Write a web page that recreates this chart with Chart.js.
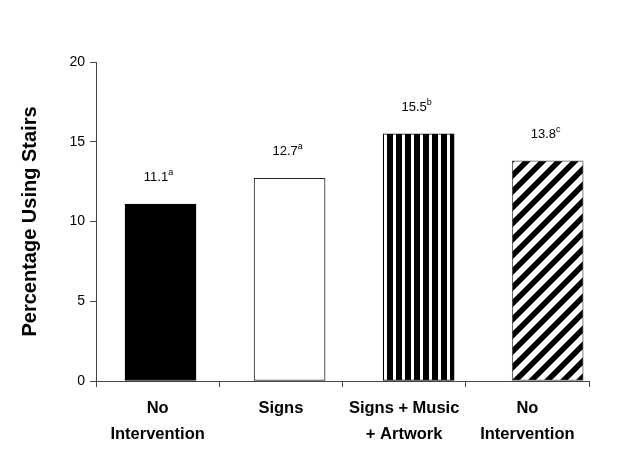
<!DOCTYPE html>
<html>
<head>
<meta charset="utf-8">
<script src="https://cdn.jsdelivr.net/npm/chart.js@4.4.1/dist/chart.umd.min.js"></script>
<style>
  html, body { margin: 0; padding: 0; background: #fff; }
  #wrap { width: 640px; height: 459px; }
</style>
</head>
<body>
<div id="wrap"><canvas id="chart" width="640" height="459"></canvas></div>
<script>
const categories = [["No", "Intervention"], ["Signs"], ["Signs + Music", "+ Artwork"], ["No", "Intervention"]];
const values = [11.1, 12.7, 15.5, 13.8];
const letters = ["a", "a", "b", "c"];
const yTicks = [0, 5, 10, 15, 20];

const FONT = "'Liberation Sans', Arial, sans-serif";

function verticalStripes() {
  const c = document.createElement("canvas");
  c.width = 9; c.height = 9;
  const g = c.getContext("2d");
  g.fillStyle = "#fff";
  g.fillRect(0, 0, 9, 9);
  g.fillStyle = "#000";
  g.fillRect(0, 0, 6, 9);
  return g.createPattern(c, "repeat");
}

function diagonalStripes() {
  const p = 16;
  const c = document.createElement("canvas");
  c.width = p; c.height = p;
  const g = c.getContext("2d");
  g.fillStyle = "#fff";
  g.fillRect(0, 0, p, p);
  g.strokeStyle = "#000";
  g.lineWidth = 5.5;
  g.beginPath();
  g.moveTo(-p, p * 2); g.lineTo(p * 2, -p);
  g.moveTo(-p, p); g.lineTo(p, -p);
  g.moveTo(0, p * 2); g.lineTo(p * 2, 0);
  g.stroke();
  return g.createPattern(c, "repeat");
}

const valueLabels = {
  id: "valueLabels",
  afterDatasetsDraw(chart) {
    const ctx = chart.ctx;
    const meta = chart.getDatasetMeta(0);
    ctx.save();
    ctx.fillStyle = "#000";
    ctx.textBaseline = "alphabetic";
    meta.data.forEach((bar, i) => {
      const txt = values[i].toFixed(1);
      ctx.font = "13px " + FONT;
      const w1 = ctx.measureText(txt).width;
      ctx.font = "9px " + FONT;
      const w2 = ctx.measureText(letters[i]).width;
      const x0 = bar.x - (w1 + w2) / 2 - 2;
      const y0 = bar.y - 23;
      ctx.textAlign = "left";
      ctx.font = "13px " + FONT;
      ctx.fillText(txt, x0, y0);
      ctx.font = "9px " + FONT;
      ctx.fillText(letters[i], x0 + w1, y0 - 6);
    });
    ctx.restore();
  }
};

const axisColor = "#444";

new Chart(document.getElementById("chart"), {
  type: "bar",
  data: {
    datasets: [{
      data: values.map((v, i) => ({ x: i, y: v })),
      xAxisID: "xb",
      backgroundColor: ["#000", "#fff", verticalStripes(), diagonalStripes()],
      borderColor: ["#000", "#222", "#000", "#555"],
      borderWidth: 1,
      borderSkipped: false,
      barThickness: 71,
    }],
  },
  options: {
    responsive: false,
    animation: false,
    layout: { padding: { left: 0, top: 62, right: 51, bottom: 0 } },
    plugins: {
      legend: { display: false },
      tooltip: { enabled: false },
    },
    scales: {
      xb: {
        type: "linear",
        display: false,
        offset: false,
        min: -0.5,
        max: 3.32,
      },
      x: {
        type: "category",
        labels: categories,
        offset: true,
        border: { display: true, color: axisColor, width: 1 },
        grid: { offset: true, drawOnChartArea: false, drawTicks: true, tickLength: 6, color: axisColor },
        ticks: {
          color: "#000",
          padding: 8,
          font: { family: FONT, size: 16.5, weight: "bold", lineHeight: 1.58 },
          maxRotation: 0,
          autoSkip: false,
        },
        afterFit(scale) { scale.height = 78; },
      },
      y: {
        min: 0,
        max: 20,
        afterBuildTicks(scale) { scale.ticks = yTicks.map((v) => ({ value: v })); },
        border: { display: true, color: axisColor, width: 1 },
        grid: { drawOnChartArea: false, drawTicks: true, tickLength: 6, color: axisColor },
        ticks: {
          color: "#000",
          padding: 5,
          font: { family: FONT, size: 14 },
        },
        title: {
          display: true,
          text: "Percentage Using Stairs",
          color: "#000",
          font: { family: FONT, size: 20, weight: "bold" },
          padding: { top: 18, bottom: 0 },
        },
        afterFit(scale) { scale.width = 96; },
      },
    },
  },
  plugins: [valueLabels],
});
</script>
</body>
</html>
